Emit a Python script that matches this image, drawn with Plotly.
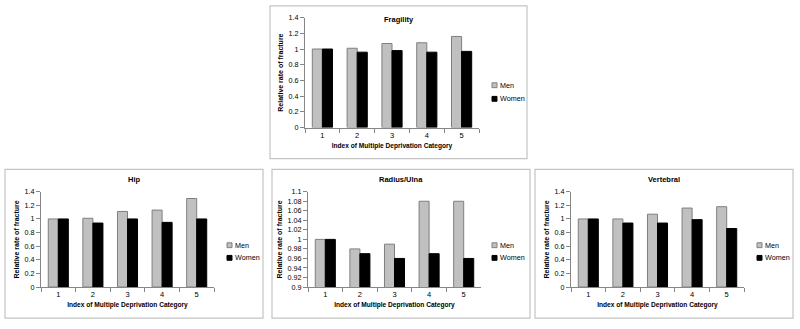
import plotly.graph_objects as go

categories = ["1", "2", "3", "4", "5"]

fragility_men = [1.00, 1.01, 1.07, 1.08, 1.16]
fragility_women = [1.00, 0.96, 0.98, 0.96, 0.97]
hip_men = [1.00, 1.01, 1.11, 1.13, 1.30]
hip_women = [1.00, 0.94, 1.00, 0.95, 1.00]
radius_men = [1.00, 0.98, 0.99, 1.08, 1.08]
radius_women = [1.00, 0.97, 0.96, 0.97, 0.96]
vertebral_men = [1.00, 1.00, 1.07, 1.16, 1.18]
vertebral_women = [1.00, 0.94, 0.94, 0.99, 0.86]

series_names = ["Men", "Women"]
x_title = "Index of Multiple Deprivation Category"
y_title = "Relative rate of fracture"

W, H = 800, 329
FONT = "Liberation Sans"
MEN_FILL = "#c0c0c0"
MEN_LINE = "#7f7f7f"
WOMEN_FILL = "#000000"
AX = "#868686"

# panel geometry (pixels): box, plot area, legend position (swatch left x, row y's), title offset
panels = [
    dict(name="Fragility", men=fragility_men, women=fragility_women,
         box=(270, 2, 527, 159), plot=(305, 14, 479, 127), rng=[0, 1.4], dtick=0.2,
         leg=(492, 83.5, 97.5), toff=14),
    dict(name="Hip", men=hip_men, women=hip_women,
         box=(5, 170, 263, 323), plot=(41, 193, 214, 291), rng=[0, 1.4], dtick=0.2,
         leg=(227, 248, 261), toff=10),
    dict(name="Radius/Ulna", men=radius_men, women=radius_women,
         box=(272, 170, 530, 323), plot=(308, 193, 481, 291), rng=[0.9, 1.1], dtick=0.02,
         leg=(492, 248, 261), toff=10),
    dict(name="Vertebral", men=vertebral_men, women=vertebral_women,
         box=(535, 170, 793, 323), plot=(571, 193, 744, 291), rng=[0, 1.4], dtick=0.2,
         leg=(757, 248, 261), toff=10),
]

def px(x):
    return x / W

def py(y):
    return 1 - y / H

fig = go.Figure()
layout = dict(
    width=W, height=H, margin=dict(l=0, r=0, t=0, b=0),
    paper_bgcolor="white", plot_bgcolor="white",
    font=dict(family=FONT, size=7, color="#000000"),
    barmode="group", bargap=0.42, bargroupgap=0, showlegend=False,
    hovermode=False,
    shapes=[], annotations=[],
)

for i, p in enumerate(panels):
    k = "" if i == 0 else str(i + 1)
    xa, ya = "x" + k, "y" + k
    fig.add_trace(go.Bar(x=categories, y=p["men"], name=series_names[0], xaxis=xa, yaxis=ya,
                         marker=dict(color=MEN_FILL, line=dict(color=MEN_LINE, width=1)),
                         offsetgroup="m"))
    fig.add_trace(go.Bar(x=categories, y=p["women"], name=series_names[1], xaxis=xa, yaxis=ya,
                         marker=dict(color=WOMEN_FILL, line=dict(color=WOMEN_FILL, width=1)),
                         offsetgroup="w"))
    x0, y0, x1, y1 = p["plot"]
    if p["dtick"] == 0.02:
        vals = [round(0.9 + 0.02 * j, 2) for j in range(11)]
    else:
        vals = [round(0.2 * j, 1) for j in range(8)]
    texts = [("%g" % v) for v in vals]
    layout["xaxis" + k] = dict(
        domain=[px(x0), px(x1)], anchor=ya, type="category",
        showline=True, linecolor=AX, linewidth=1, ticks="outside", ticklen=4,
        tickcolor=AX, tickson="boundaries", showgrid=False, zeroline=False,
        tickfont=dict(size=7.5, family=FONT),
        title=dict(text="<b>" + x_title + "</b>", standoff=4, font=dict(size=6.6, family=FONT)),
    )
    layout["yaxis" + k] = dict(
        domain=[py(y1), py(y0)], anchor=xa, range=p["rng"],
        tickvals=vals, ticktext=texts,
        showline=True, linecolor=AX, linewidth=1, ticks="outside", ticklen=4,
        tickcolor=AX, showgrid=False, zeroline=False,
        tickfont=dict(size=7.2, family=FONT),
        title=dict(text="<b>" + y_title + "</b>", standoff=4, font=dict(size=7, family=FONT)),
    )
    # panel border
    bx0, by0, bx1, by1 = p["box"]
    layout["shapes"].append(dict(type="rect", xref="paper", yref="paper",
                                 x0=px(bx0), x1=px(bx1), y0=py(by1), y1=py(by0),
                                 line=dict(color="#c4c4c4", width=1.2), fillcolor="rgba(0,0,0,0)",
                                 layer="below"))
    # panel title
    layout["annotations"].append(dict(text="<b>" + p["name"] + "</b>", xref="paper", yref="paper",
                                      x=px((bx0 + bx1) / 2), y=py(by0 + p["toff"]), xanchor="center",
                                      yanchor="middle", showarrow=False,
                                      font=dict(size=7.5, family=FONT)))
    # legend
    lx, ly1, ly2 = p["leg"]
    for name, yy, fill, ln in [(series_names[0], ly1, MEN_FILL, MEN_LINE),
                               (series_names[1], ly2, WOMEN_FILL, WOMEN_FILL)]:
        layout["shapes"].append(dict(type="rect", xref="paper", yref="paper",
                                     x0=px(lx), x1=px(lx + 5), y0=py(yy + 2.5), y1=py(yy - 2.5),
                                     line=dict(color=ln, width=1), fillcolor=fill))
        layout["annotations"].append(dict(text=name, xref="paper", yref="paper",
                                          x=px(lx + 6), y=py(yy), xanchor="left", yanchor="middle",
                                          showarrow=False, font=dict(size=7.2, family=FONT)))

fig.update_layout(**layout)
fig.write_html("out.html", config={"displayModeBar": False, "staticPlot": True},
               post_script="document.body.style.margin='0';document.body.style.padding='0';document.body.style.overflow='hidden';")
